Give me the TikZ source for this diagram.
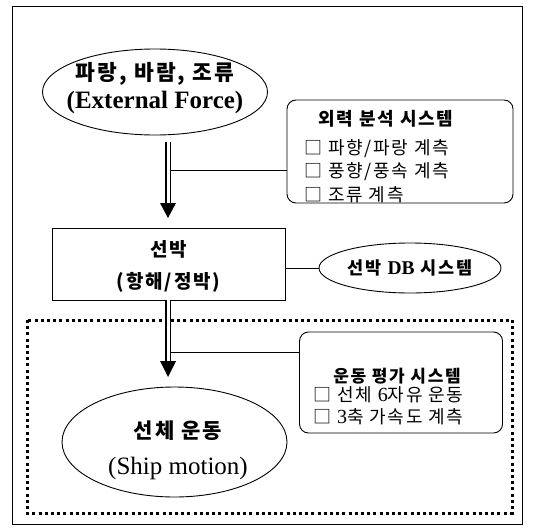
\documentclass[tikz,border=0pt]{standalone}
\usepackage{fontspec}
\setmainfont{Liberation Serif}
\newfontfamily\kr{Noto Sans CJK KR}
\newfontfamily\krw[LetterSpace=10]{Noto Sans CJK KR}
\usetikzlibrary{shapes.geometric}
\begin{document}
\begin{tikzpicture}[x=1pt,y=-1pt,
  frame/.style={draw,line width=1pt},
  oval/.style={ellipse,draw,line width=0.9pt,inner sep=0pt},
  panel/.style={draw,rounded corners=9pt,line width=0.9pt,inner sep=0pt},
  plainbox/.style={draw,line width=0.9pt,inner sep=0pt},
  lbl/.style={inner sep=0pt,align=center},
  items/.style={inner sep=0pt,align=left},
  link/.style={line width=0.9pt},
  dbl/.style={line width=1.2pt,double,double distance=3pt},
  head/.style={fill=black},
  dots/.style={line width=3pt,dash pattern=on 3pt off 3.2pt}
]
\useasboundingbox (0,0) rectangle (545,527);
\draw[frame] (12,7) rectangle (522,524);
\draw[dots] (27,320) rectangle (512,513);

% top ellipse
\node[oval,minimum width=225pt,minimum height=86pt] (force) at (155,92) {};
\node[lbl,font=\fontsize{21.5}{28}\selectfont\bfseries] (forcet) at (155,88)
  {{\krw 파랑, 바람, 조류}\\{\fontsize{25}{28}\selectfont (External Force)}};

% analysis panel
\node[panel,minimum width=226pt,minimum height=103pt] (ana) at (400,151.5) {};
\node[lbl,font=\krw\bfseries\fontsize{18}{22}\selectfont] (anat) at (386,119) {외력 분석 시스템};
\node[items,font=\krw\fontsize{18}{23.5}\selectfont,anchor=north west] (anai) at (304,139)
  {□ 파향/파랑 계측\\□ 풍향/풍속 계측\\□ 조류 계측};

% ship box
\node[plainbox,minimum width=233pt,minimum height=72pt] (ship) at (168.5,264) {};
\node[lbl,font=\krw\bfseries\fontsize{19}{32}\selectfont] (shipt) at (168.5,266) {선박\\(항해/정박)};

% DB ellipse
\node[oval,minimum width=182pt,minimum height=50pt] (db) at (410,268) {};
\node[lbl,font=\krw\bfseries\fontsize{17.5}{22}\selectfont] (dbt) at (db.center) {선박 {\rmfamily\fontsize{19.5}{22}\selectfont DB} 시스템};

% motion panel
\node[panel,minimum width=203pt,minimum height=101pt] (mot) at (401,382.5) {};
\node[lbl,font=\krw\bfseries\fontsize{17}{22}\selectfont] (mott) at (397,376) {운동 평가 시스템};
\node[items,font=\krw\fontsize{18}{22.5}\selectfont,anchor=north west] (moti) at (313,386)
  {□ 선체 {\rmfamily\fontsize{20}{23}\selectfont 6}자유 운동\\□ {\rmfamily\fontsize{20}{23}\selectfont 3}축 가속도 계측};

% bottom ellipse
\node[oval,minimum width=225pt,minimum height=110pt] (ship2) at (174.5,442) {};
\node[lbl,font=\krw\bfseries\fontsize{21}{36}\selectfont] (ship2t) at (178,450)
  {선체 운동\\{\rmfamily\mdseries\fontsize{25}{36}\selectfont (Ship motion)}};

% arrows
\coordinate (a1s) at (168,142);
\coordinate (a1h) at (168,203);
\coordinate (a1t) at (168,218);
\draw[dbl] (a1s) -- (a1h);
\fill[head] (a1t) -- ([xshift=-8pt]a1h) -- ([xshift=8pt]a1h) -- cycle;
\coordinate (c1) at (170.2,170);
\draw[link] (c1) -- (c1 -| ana.west);

\coordinate (a2h) at (168,361);
\coordinate (a2t) at (168,377);
\draw[dbl] (ship.south -| a2h) -- (a2h);
\fill[head] (a2t) -- ([xshift=-8pt]a2h) -- ([xshift=8pt]a2h) -- cycle;
\coordinate (c2) at (170.2,352);
\draw[link] (c2) -- (c2 -| mot.west);

\draw[link] (db.west -| ship.east) -- (db.west);
\end{tikzpicture}
\end{document}
